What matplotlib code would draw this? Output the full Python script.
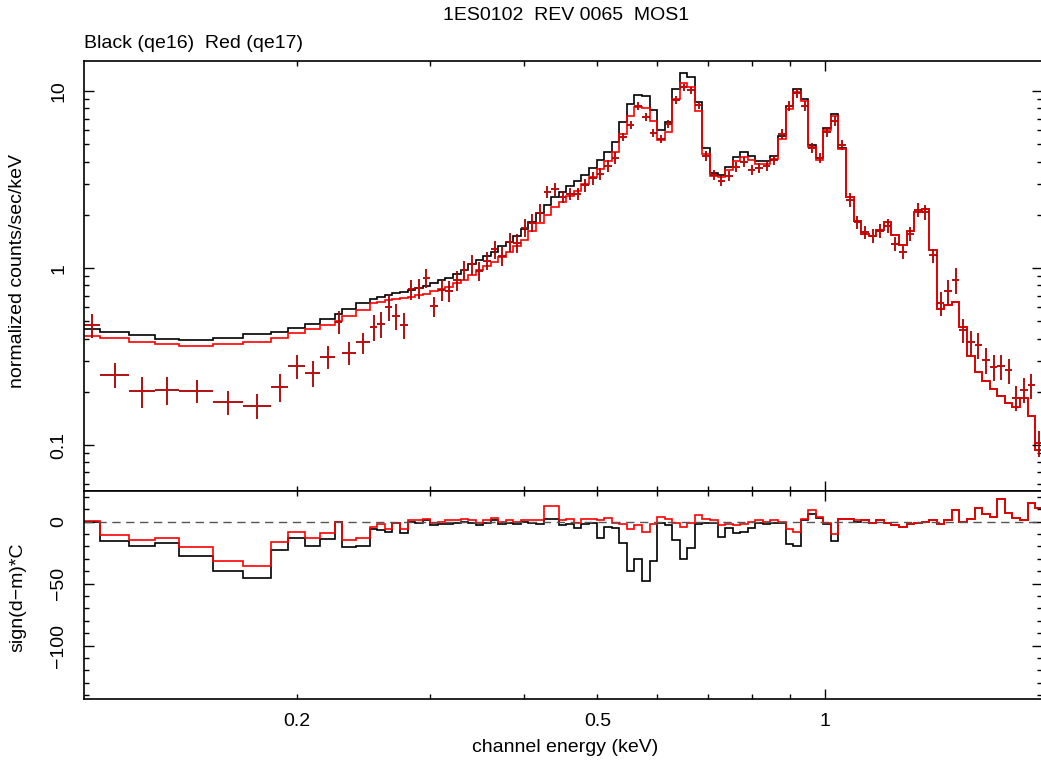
import numpy as np
import matplotlib
matplotlib.use('Agg')
import matplotlib.pyplot as plt

plt.rcParams['font.family'] = ['Liberation Sans', 'DejaVu Sans']

# Channel energy bin edges (keV)
edges = [0.1045, 0.110, 0.120, 0.130, 0.140, 0.155, 0.170, 0.185, 0.195, 0.205,
         0.215, 0.225, 0.230, 0.240, 0.2500, 0.2558, 0.2618, 0.2679, 0.2741, 0.2805,
         0.2870, 0.2937, 0.3006, 0.3076, 0.3147, 0.3221, 0.3296, 0.3372, 0.3451, 0.3531,
         0.3614, 0.3698, 0.3784, 0.3872, 0.3962, 0.4054, 0.4149, 0.4245, 0.4344, 0.4446,
         0.4549, 0.4655, 0.4764, 0.4875, 0.4988, 0.5104, 0.5223, 0.5345, 0.5469, 0.5597,
         0.5727, 0.5861, 0.5997, 0.6137, 0.6280, 0.6426, 0.6576, 0.6729, 0.6886, 0.7046,
         0.7210, 0.7378, 0.7550, 0.7726, 0.7906, 0.8090, 0.8279, 0.8471, 0.8669, 0.8871,
         0.9077, 0.9289, 0.9505, 0.9727, 0.9953, 1.0185, 1.0422, 1.0665, 1.0914, 1.1168,
         1.1428, 1.1694, 1.1967, 1.2245, 1.2531, 1.2823, 1.3121, 1.3427, 1.3740, 1.4060,
         1.4387, 1.4722, 1.5065, 1.5416, 1.5775, 1.6143, 1.6519, 1.6903, 1.7297, 1.7700,
         1.8112, 1.8534, 1.8966, 1.9408]

# folded model, black = qe16, red = qe17 (counts/sec/keV)
model_qe16 = [0.451, 0.437, 0.418, 0.399, 0.392, 0.404, 0.422, 0.437, 0.457, 0.481,
              0.513, 0.550, 0.584, 0.637, 0.665, 0.688, 0.707, 0.722, 0.732, 0.750,
              0.774, 0.794, 0.826, 0.857, 0.880, 0.921, 0.977, 1.05, 1.11, 1.17,
              1.23, 1.33, 1.41, 1.51, 1.66, 1.83, 2.05, 2.27, 2.52, 2.69,
              2.90, 3.10, 3.35, 3.68, 4.08, 4.52, 5.15, 6.69, 8.45, 9.49,
              9.43, 7.81, 6.02, 6.69, 10.27, 12.63, 12.00, 8.67, 4.76, 3.44,
              3.35, 3.72, 4.24, 4.54, 4.29, 4.03, 4.03, 4.29, 5.57, 8.23,
              10.33, 9.02, 4.95, 4.19, 6.18, 7.42, 4.76, 2.52, 1.85, 1.56,
              1.52, 1.64, 1.82, 1.54, 1.35, 1.62, 2.07, 2.16, 1.26, 0.587,
              0.618, 0.642, 0.464, 0.318, 0.259, 0.230, 0.208, 0.190, 0.173, 0.164,
              0.185, 0.146, 0.094]
model_qe17 = [0.413, 0.404, 0.383, 0.371, 0.363, 0.371, 0.383, 0.401, 0.428, 0.451,
              0.476, 0.504, 0.536, 0.579, 0.632, 0.645, 0.662, 0.667, 0.676, 0.684,
              0.707, 0.715, 0.745, 0.763, 0.783, 0.820, 0.857, 0.920, 0.977, 1.03,
              1.08, 1.16, 1.24, 1.33, 1.45, 1.61, 1.80, 1.99, 2.21, 2.36,
              2.55, 2.73, 2.98, 3.26, 3.63, 4.03, 4.52, 5.71, 7.22, 8.12,
              8.07, 6.77, 5.29, 5.86, 9.02, 11.1, 10.5, 7.71, 4.41, 3.31,
              3.26, 3.58, 4.03, 4.25, 4.08, 3.87, 3.87, 4.13, 5.36, 7.92,
              9.94, 8.78, 4.82, 4.08, 6.02, 7.22, 4.70, 2.52, 1.85, 1.56,
              1.52, 1.64, 1.82, 1.54, 1.35, 1.62, 2.07, 2.16, 1.26, 0.587,
              0.618, 0.642, 0.464, 0.318, 0.259, 0.230, 0.208, 0.190, 0.173, 0.164,
              0.185, 0.146, 0.094]

# MOS1 spectrum and 1-sigma errors
rate = [0.476, 0.249, 0.202, 0.206, 0.203, 0.175, 0.167, 0.214, 0.280, 0.256,
        0.315, 0.497, 0.332, 0.380, 0.466, 0.482, 0.602, 0.536, 0.476, 0.761,
        0.771, 0.878, 0.610, 0.751, 0.741, 0.855, 0.974, 1.05, 0.962, 1.10,
        1.28, 1.17, 1.40, 1.39, 1.69, 1.80, 2.05, 2.69, 2.79, 2.52,
        2.62, 2.62, 2.94, 3.22, 3.40, 3.77, 4.19, 5.50, 6.43, 8.23,
        7.12, 5.79, 5.36, 6.51, 8.90, 10.5, 10.1, 8.30, 4.29, 3.35,
        3.10, 3.31, 3.72, 3.97, 3.58, 3.68, 3.77, 4.08, 5.71, 8.23,
        9.74, 8.23, 4.76, 4.19, 5.86, 6.77, 4.95, 2.42, 1.82, 1.60,
        1.52, 1.62, 1.73, 1.37, 1.23, 1.56, 2.13, 2.07, 1.18, 0.634,
        0.741, 0.855, 0.446, 0.382, 0.367, 0.302, 0.276, 0.279, 0.265, 0.185,
        0.205, 0.218, 0.103]
rate_err = [0.075, 0.040, 0.039, 0.037, 0.030, 0.027, 0.027, 0.038, 0.043, 0.042,
            0.047, 0.073, 0.048, 0.051, 0.080, 0.080, 0.100, 0.090, 0.080, 0.100,
            0.100, 0.110, 0.080, 0.100, 0.100, 0.110, 0.120, 0.130, 0.120, 0.130,
            0.150, 0.140, 0.170, 0.170, 0.200, 0.210, 0.240, 0.210, 0.220, 0.200,
            0.210, 0.210, 0.240, 0.260, 0.270, 0.300, 0.330, 0.280, 0.320, 0.410,
            0.360, 0.290, 0.270, 0.330, 0.450, 0.520, 0.500, 0.360, 0.280, 0.220,
            0.200, 0.220, 0.240, 0.260, 0.230, 0.240, 0.250, 0.270, 0.370, 0.530,
            0.630, 0.530, 0.310, 0.270, 0.380, 0.440, 0.320, 0.220, 0.160, 0.140,
            0.140, 0.150, 0.160, 0.120, 0.110, 0.140, 0.190, 0.190, 0.110, 0.100,
            0.120, 0.140, 0.070, 0.060, 0.060, 0.050, 0.045, 0.045, 0.043, 0.030,
            0.033, 0.035, 0.017]

# sign(d-m)*C residuals
resid_qe16 = [0, -15.6, -19.6, -16.9, -27.7, -39.8, -45.7, -22.8, -13.4, -19.6,
              -14.2, -0.5, -20.6, -19.3, -5.9, -6.5, -8, -1.3, -8.8, 0,
              -1, 1, -3, -2, -2, -1, 0, -1, -3, -1,
              1, -2, -1, -2, 0, -1, -2, 2, 2, -3,
              -2, -5, -2, -1, -13, -4, -5, -17, -40, -30,
              -48, -32, -1, -3, -15, -30, -21, -2, -1, -1,
              -12, -5, -9, -8, -5, -1, -2, -1, -1, -18,
              -20, 1, 6, 3, -2, -16, 2, 2, 0, 1,
              -1, 1, -1, -3, -4, -2, -1, 0, 1, -2,
              1, 9, 0, 2, 11, 6, 4, 18, 7, 3,
              1, 15, 11]
resid_qe17 = [0.5, -10.8, -14.8, -12.9, -20.2, -31.4, -35.7, -16.6, -8.6, -13.4,
              -8.9, -0.5, -14.8, -12.9, -4, -1.7, -5.8, -1.3, -6, 1,
              1, 2, -1, 0, 1, 1, 2, 1, -1, 1,
              3, 0, 1, 0, 1, 1, 1, 13, 13, 1,
              2, -1, 2, 2, 1, 3, -1, -2, -6, -3,
              -8, -2, 4, 2, -1, -4, -1, 5, 2, 1,
              -3, -2, -3, -2, 0, 1, 0, 1, 0, -6,
              -8, 2, 9, 4, -1, -10, 2, 2, 1, 1,
              -1, 1, -1, -3, -4, -2, -1, 0, 1, -2,
              1, 9, 0, 2, 11, 6, 4, 18, 7, 3,
              1, 15, 11]

e = np.array(edges)
ctr = 0.5 * (e[1:] + e[:-1])
hw = 0.5 * (e[1:] - e[:-1])

W, H = 1041, 762
fig = plt.figure(figsize=(W / 100, H / 100), dpi=100)
left = 84 / W
width = (1042 - 84) / W
ax1 = fig.add_axes([left, 1 - 491 / H, width, (491 - 61) / H])
ax2 = fig.add_axes([left, 1 - 699 / H, width, (699 - 491) / H], sharex=ax1)

# top panel: data + folded models
ax1.errorbar(ctr, rate, xerr=hw, yerr=rate_err, fmt='none', ecolor='black', elinewidth=1.1)
ax1.errorbar(ctr, rate, xerr=hw, yerr=rate_err, fmt='none', ecolor='red', elinewidth=1.1, alpha=0.8)
ax1.stairs(model_qe16, e, color='black', lw=1.2)
ax1.stairs(model_qe17, e, color='red', lw=1.2)
ax1.set_xscale('log')
ax1.set_yscale('log')
ax1.set_xlim(0.1047, 1.937)
ax1.set_ylim(0.055, 14.8)

# bottom panel: residuals
ax2.axhline(0, color='#555555', lw=1, ls=(0, (6, 4)))
ax2.stairs(resid_qe16, e, color='black', lw=1.2)
ax2.stairs(resid_qe17, e, color='red', lw=1.2)
ax2.set_ylim(-143, 24.7)

xmin = [0.2, 0.3, 0.4, 0.5, 0.6, 0.7, 0.8, 0.9]
ax2.set_xticks([1], labels=['1'])
ax2.set_xticks(xmin, minor=True, labels=['0.2', '', '', '0.5', '', '', '', ''])
ax1.tick_params(axis='x', which='both', labelbottom=False)

ax1.set_yticks([0.1, 1, 10], labels=['0.1', '1', '10'])
ax1.set_yticks([0.06, 0.07, 0.08, 0.09, 0.2, 0.3, 0.4, 0.5, 0.6, 0.7, 0.8, 0.9,
                2, 3, 4, 5, 6, 7, 8, 9], minor=True, labels=[])
ax2.set_yticks([-100, -50, 0], labels=['\u2212100', '\u221250', '0'])
ax2.set_yticks(list(range(-140, 30, 10)), minor=True, labels=[])

for ax in (ax1, ax2):
    ax.tick_params(which='both', direction='in', top=True, right=True, labelsize=14, width=1)
    ax.tick_params(which='major', length=7.2)
    ax.tick_params(which='minor', length=3.6)
    ax.tick_params(axis='y', which='both', labelrotation=90, pad=12)
    ax.tick_params(axis='x', which='both', pad=10)
    for s in ax.spines.values():
        s.set_linewidth(1.2)
    for lbl in ax.get_yticklabels():
        lbl.set_va('center')

fig.text(566 / W, 1 - 15 / H, '1ES0102  REV 0065  MOS1', ha='center', va='center', fontsize=14)
fig.text(left, 1 - 44 / H, 'Black (qe16)  Red (qe17)', ha='left', va='center', fontsize=14)
fig.text(18 / W, 1 - 271 / H, 'normalized counts/sec/keV', rotation=90, ha='center', va='center', fontsize=14)
fig.text(18 / W, 1 - 597 / H, 'sign(d\u2212m)*C', rotation=90, ha='center', va='center', fontsize=14)
fig.text(565 / W, 1 - 748 / H, 'channel energy (keV)', ha='center', va='center', fontsize=14)

fig.savefig('out.png', dpi=100)
